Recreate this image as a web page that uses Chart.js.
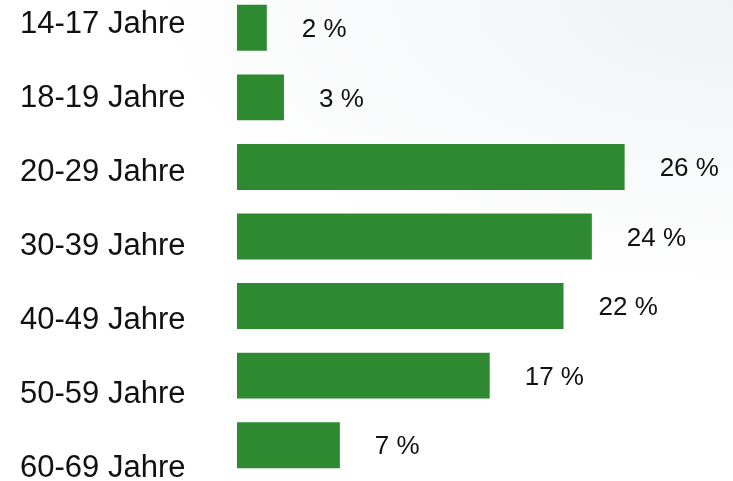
<!DOCTYPE html>
<html>
<head>
<meta charset="utf-8">
<script src="https://cdn.jsdelivr.net/npm/chart.js@4/dist/chart.umd.min.js"></script>
<style>
  html, body { margin: 0; padding: 0; }
  body {
    width: 733px; height: 481px; overflow: hidden;
    background: radial-gradient(ellipse 100% 75% at 100% 0%, #f0f2f4 0%, #f8f9fa 45%, #ffffff 80%);
  }
  /* the plot starts a little above the page edge, like the original */
  #wrap { position: relative; width: 733px; height: 488px; margin-top: -7px; }
</style>
</head>
<body>
<div id="wrap"><canvas id="chart-bars"></canvas></div>
<script>
// Chart data
const AGE_GROUPS = ["14-17 Jahre", "18-19 Jahre", "20-29 Jahre", "30-39 Jahre", "40-49 Jahre", "50-59 Jahre", "60-69 Jahre"];
// bar lengths (labels are rounded)
const SHARES = [2, 3.15, 26, 23.8, 21.9, 16.95, 6.9];
const VALUE_LABELS = ["2 %", "3 %", "26 %", "24 %", "22 %", "17 %", "7 %"];

const GREEN = "#2e8a30";

// value labels to the right of each bar
const valueLabels = {
  id: "valueLabels",
  afterDatasetsDraw(chart) {
    const { ctx } = chart;
    const meta = chart.getDatasetMeta(0);
    ctx.save();
    ctx.font = "26px 'Liberation Sans', Arial, sans-serif";
    ctx.fillStyle = "#111";
    ctx.textAlign = "left";
    ctx.textBaseline = "middle";
    meta.data.forEach((bar, i) => {
      ctx.fillText(VALUE_LABELS[i], bar.x + 35, bar.y + 2);
    });
    ctx.restore();
  },
};

const CONFIG = {
  type: "bar",
  data: {
    labels: AGE_GROUPS,
    datasets: [
      {
        data: SHARES,
        backgroundColor: GREEN,
        hoverBackgroundColor: GREEN,
        borderWidth: 0,
        barPercentage: 0.66,
        categoryPercentage: 1,
        clip: false,
      },
    ],
  },
  options: {
    indexAxis: "y",
    responsive: true,
    maintainAspectRatio: false,
    animation: false,
    layout: {
      padding: { left: 20, right: 4, top: 0, bottom: 1 },
    },
    plugins: {
      legend: { display: false },
      title: { display: false },
      tooltip: { enabled: false },
    },
    scales: {
      x: {
        min: 0,
        max: 33,
        display: false,
      },
      y: {
        display: false,
      },
      // evenly spaced category captions, as in the original
      yl: {
        type: "linear",
        position: "left",
        reverse: true,
        offset: false,
        min: -0.426,
        max: 6.155,
        border: { display: false },
        grid: { display: false, drawTicks: false },
        afterFit(scale) {
          scale.width = 217;
          scale.paddingTop = 0;
          scale.paddingBottom = 0;
        },
        afterBuildTicks(scale) {
          scale.ticks = AGE_GROUPS.map((_, i) => ({ value: i }));
        },
        ticks: {
          crossAlign: "far",
          padding: 0,
          color: "#111",
          font: { family: "'Liberation Sans', Arial, sans-serif", size: 31 },
          callback: (v) => AGE_GROUPS[v] ?? "",
        },
      },
    },
  },
  plugins: [valueLabels],
};

new Chart(document.getElementById("chart-bars"), CONFIG);
</script>
</body>
</html>
